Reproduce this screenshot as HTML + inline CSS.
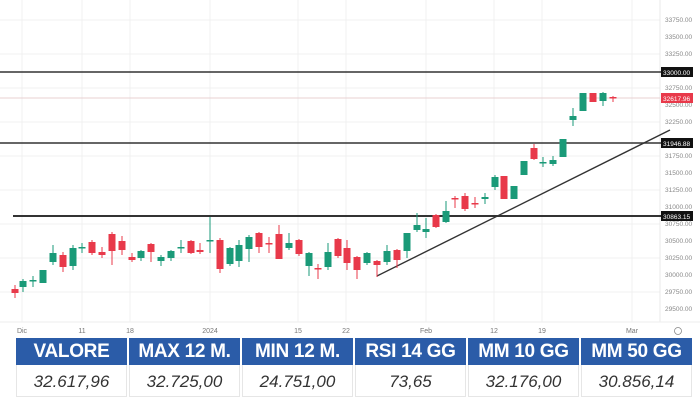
<!DOCTYPE html>
<html><head><meta charset="utf-8"><style>
body{margin:0;width:700px;height:400px;background:#fff;overflow:hidden;font-family:"Liberation Sans",sans-serif;position:relative}
svg{position:absolute;left:0;top:0}
.tbl{position:absolute;left:16px;top:338px;width:677px}
.col{position:absolute;top:0;width:111px}
.h{height:27px;background:#2b5ca8;color:#fff;font-weight:bold;font-size:19px;line-height:28px;text-align:center;letter-spacing:-0.3px;white-space:nowrap}
.v{height:32px;border:1px solid #e6e6e6;border-top:none;box-sizing:border-box;font-style:italic;font-size:17px;line-height:33px;text-align:center;color:#333}
</style></head><body>
<svg width="700" height="400" viewBox="0 0 700 400" font-family="Liberation Sans, sans-serif">
<g stroke="#f1f1f1" stroke-width="1">
<line x1="22" y1="0" x2="22" y2="322"/><line x1="82" y1="0" x2="82" y2="322"/><line x1="130" y1="0" x2="130" y2="322"/><line x1="210" y1="0" x2="210" y2="322"/><line x1="298" y1="0" x2="298" y2="322"/><line x1="346" y1="0" x2="346" y2="322"/><line x1="426" y1="0" x2="426" y2="322"/><line x1="494" y1="0" x2="494" y2="322"/><line x1="542" y1="0" x2="542" y2="322"/><line x1="632" y1="0" x2="632" y2="322"/>
<line x1="0" y1="20" x2="660" y2="20"/><line x1="0" y1="54" x2="660" y2="54"/><line x1="0" y1="88" x2="660" y2="88"/><line x1="0" y1="122" x2="660" y2="122"/><line x1="0" y1="156" x2="660" y2="156"/><line x1="0" y1="190" x2="660" y2="190"/><line x1="0" y1="224" x2="660" y2="224"/><line x1="0" y1="258" x2="660" y2="258"/><line x1="0" y1="292" x2="660" y2="292"/>
</g>
<line x1="660" y1="0" x2="660" y2="322" stroke="#e8e8e8"/>
<line x1="0" y1="322" x2="700" y2="322" stroke="#eee"/>
<line x1="0" y1="98" x2="660" y2="98" stroke="#e8d0d2" stroke-width="1"/>
<g stroke="#333" stroke-width="1.5">
<line x1="0" y1="72" x2="662" y2="72"/><line x1="0" y1="143" x2="662" y2="143"/><line x1="13" y1="216" x2="662" y2="216" stroke-width="2"/>
</g>
<line x1="377" y1="276" x2="670" y2="130" stroke="#333" stroke-width="1.4"/>
<g id="c"></g>
<g font-size="6.5" fill="#888">
<text x="665" y="22">33750.00</text><text x="665" y="39">33500.00</text><text x="665" y="56">33250.00</text><text x="665" y="90">32750.00</text><text x="665" y="107">32500.00</text><text x="665" y="124">32250.00</text><text x="665" y="158">31750.00</text><text x="665" y="175">31500.00</text><text x="665" y="192">31250.00</text><text x="665" y="209">31000.00</text><text x="665" y="226">30750.00</text><text x="665" y="243">30500.00</text><text x="665" y="260">30250.00</text><text x="665" y="277">30000.00</text><text x="665" y="294">29750.00</text><text x="665" y="311">29500.00</text>
</g>
<rect x="661" y="67" width="32" height="10" fill="#111"/><text x="663" y="75" font-size="6.5" fill="#fff">33000.00</text>
<rect x="661" y="93" width="32" height="10" fill="#e8394a"/><text x="663" y="101" font-size="6.5" fill="#fff">32617.96</text>
<rect x="661" y="138" width="32" height="10" fill="#111"/><text x="663" y="146" font-size="6.5" fill="#fff">31946.88</text>
<rect x="661" y="211" width="32" height="10" fill="#111"/><text x="663" y="219" font-size="6.5" fill="#fff">30863.15</text>
<g font-size="7" fill="#777" text-anchor="middle">
<text x="22" y="333">Dic</text><text x="82" y="333">11</text><text x="130" y="333">18</text><text x="210" y="333">2024</text><text x="298" y="333">15</text><text x="346" y="333">22</text><text x="426" y="333">Feb</text><text x="494" y="333">12</text><text x="542" y="333">19</text><text x="632" y="333">Mar</text>
</g>
<circle cx="678" cy="331" r="3.5" fill="none" stroke="#888" stroke-width="0.8"/>
</svg>
<div class="tbl">
<div class="col" style="left:0"><div class="h">VALORE</div><div class="v">32.617,96</div></div>
<div class="col" style="left:113px"><div class="h">MAX 12 M.</div><div class="v">32.725,00</div></div>
<div class="col" style="left:226px"><div class="h">MIN 12 M.</div><div class="v">24.751,00</div></div>
<div class="col" style="left:339px"><div class="h">RSI 14 GG</div><div class="v">73,65</div></div>
<div class="col" style="left:452px"><div class="h">MM 10 GG</div><div class="v">32.176,00</div></div>
<div class="col" style="left:565px"><div class="h">MM 50 GG</div><div class="v">30.856,14</div></div>
</div>
<script>
var d=[[15,'r',289,293,285,298],[23,'g',281,287,279,292],[33,'g',280,281,276,287],[43,'g',270,283,270,283],[53,'g',253,262,245,265],[63,'r',255,267,252,272],[73,'g',248,266,245,270],[82,'g',247,248,243,253],[92,'r',242,253,240,255],[102,'r',252,255,247,258],[112,'r',234,251,232,265],[122,'r',241,250,236,255],[132,'r',257,260,253,262],[141,'g',251,258,250,261],[151,'r',244,252,243,262],[161,'g',257,261,255,266],[171,'g',251,258,250,261],[181,'g',247,248,240,253],[191,'r',241,253,240,254],[200,'r',250,252,243,254],[210,'g',240,241,217,253],[220,'r',240,269,238,273],[230,'g',248,264,247,266],[239,'g',245,261,240,267],[249,'g',237,249,235,262],[259,'r',233,247,232,253],[269,'r',243,244,237,253],[279,'r',234,259,225,259],[289,'g',243,248,233,250],[299,'r',240,254,239,256],[309,'g',253,266,252,276],[318,'r',268,269,264,279],[328,'g',252,267,243,270],[338,'r',239,256,238,258],[347,'r',248,263,240,270],[357,'r',257,270,256,279],[367,'g',253,263,252,265],[377,'r',261,265,260,277],[387,'g',251,262,245,265],[397,'r',250,260,249,268],[407,'g',233,251,233,258],[417,'g',225,230,213,232],[426,'g',229,232,218,238],[436,'r',215,227,214,228],[446,'g',211,222,201,223],[455,'r',198,199,196,208],[465,'r',196,209,193,211],[475,'r',203,204,197,208],[485,'g',197,199,193,204],[495,'g',177,187,175,190],[504,'r',176,199,176,199],[514,'g',186,199,186,199],[524,'g',161,175,161,175],[534,'r',148,159,144,160],[543,'g',162,163,157,167],[553,'g',160,164,156,166],[563,'g',139,157,139,157],[573,'g',116,120,108,126],[583,'g',93,111,93,111],[593,'r',93,102,93,102],[603,'g',93,101,92,106],[613,'r',97,98,96,102]];
var s='';d.forEach(function(c){var col=c[1]=='g'?'#1a9a78':'#e8394a';s+='<line x1="'+c[0]+'" y1="'+c[4]+'" x2="'+c[0]+'" y2="'+c[5]+'" stroke="'+col+'" stroke-width="1"/><rect x="'+(c[0]-3.5)+'" y="'+c[2]+'" width="7" height="'+Math.max(1.5,c[3]-c[2])+'" fill="'+col+'"/>';});
document.getElementById('c').innerHTML=s;
</script>
</body></html>
